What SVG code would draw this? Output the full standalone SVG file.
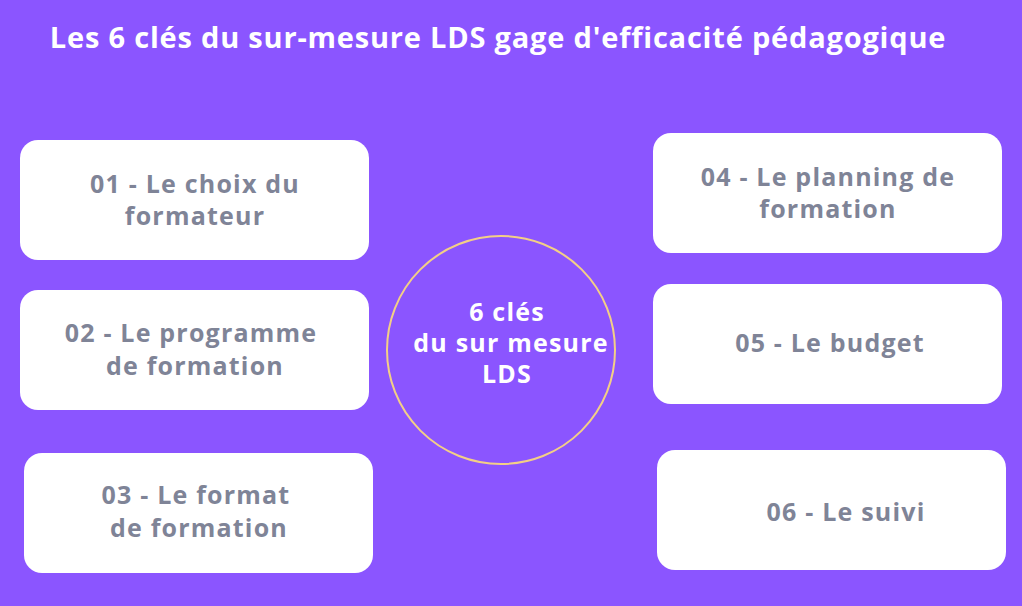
<svg xmlns="http://www.w3.org/2000/svg" width="1022" height="606" viewBox="0 0 1022 606">
<style>
.b{fill:#fff}
.t{font-family:"Open Sans","Liberation Sans",sans-serif;font-weight:700;font-size:25px;letter-spacing:1.2px;fill:#7f8497;text-anchor:middle}
.w{font-family:"Open Sans","Liberation Sans",sans-serif;font-weight:700;fill:#fff;text-anchor:middle}
</style>
<rect width="1022" height="606" fill="#8b55ff"/>
<text class="w" x="498" y="48" font-size="29" font-weight="600" letter-spacing="0.8">Les 6 clés du sur-mesure LDS gage d'efficacité pédagogique</text>
<g id="connectors"></g>
<g id="center"><circle cx="501" cy="350" r="114" fill="none" stroke="#f3cf86" stroke-width="2"/>
<text class="w" font-size="25" letter-spacing="1.2"><tspan x="507" y="321">6 clés</tspan><tspan x="511" y="352">du sur mesure</tspan><tspan x="507" y="383">LDS</tspan></text></g>
<g id="n1"><rect class="b" x="20" y="140" width="349" height="120" rx="18"/><text class="t"><tspan x="195" y="193">01 - Le choix du</tspan><tspan x="195" y="225">formateur</tspan></text></g>
<g id="n2"><rect class="b" x="20" y="290" width="349" height="120" rx="18"/><text class="t"><tspan x="191" y="342">02 - Le programme</tspan><tspan x="195" y="375">de formation</tspan></text></g>
<g id="n3"><rect class="b" x="24" y="453" width="349" height="120" rx="18"/><text class="t"><tspan x="196" y="504">03 - Le format</tspan><tspan x="199" y="537">de formation</tspan></text></g>
<g id="n4"><rect class="b" x="653" y="133" width="349" height="120" rx="18"/><text class="t"><tspan x="828" y="186">04 - Le planning de</tspan><tspan x="828" y="218">formation</tspan></text></g>
<g id="n5"><rect class="b" x="653" y="284" width="349" height="120" rx="18"/><text class="t"><tspan x="830" y="352">05 - Le budget</tspan></text></g>
<g id="n6"><rect class="b" x="657" y="450" width="349" height="120" rx="18"/><text class="t"><tspan x="846" y="521">06 - Le suivi</tspan></text></g>
</svg>
